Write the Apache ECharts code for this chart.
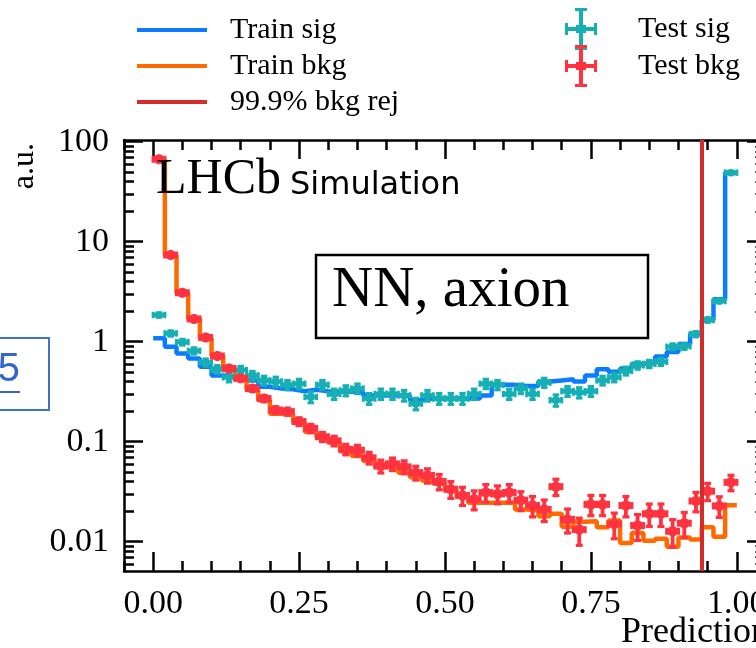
<!DOCTYPE html>
<html>
<head>
<meta charset="utf-8">
<script src="https://cdn.jsdelivr.net/npm/echarts@6/dist/echarts.min.js"></script>
<style>
  html, body { margin: 0; padding: 0; background: #ffffff; }
  #chart { width: 756px; height: 648px; }
</style>
</head>
<body>
<div id="chart"></div>
<script>
// ---------------- data ----------------
const binWidth = 0.02;   // 50 bins on [0, 1]
const trainSig = [1.08, 0.89, 0.76, 0.68, 0.56, 0.46, 0.45, 0.43, 0.41, 0.355,
  0.34, 0.335, 0.32, 0.33, 0.32, 0.315, 0.315, 0.31, 0.29, 0.29,
  0.29, 0.29, 0.26, 0.27, 0.27, 0.27, 0.27, 0.27, 0.29, 0.37,
  0.37, 0.36, 0.36, 0.40, 0.41, 0.42, 0.40, 0.46, 0.53, 0.50,
  0.54, 0.60, 0.62, 0.71, 0.79, 0.95, 1.2, 1.65, 2.65, 49];
const trainBkg = [66, 7.3, 3.05, 1.7, 1.08, 0.72, 0.53, 0.42, 0.33, 0.26,
  0.19, 0.185, 0.155, 0.125, 0.11, 0.098, 0.080, 0.072, 0.064, 0.056,
  0.054, 0.049, 0.044, 0.041, 0.038, 0.0324, 0.0283, 0.0245, 0.0245, 0.0245,
  0.0245, 0.021, 0.0205, 0.018, 0.019, 0.0141, 0.0158, 0.016, 0.0139, 0.0163,
  0.0097, 0.0122, 0.0102, 0.0107, 0.0089, 0.011, 0.0105, 0.0139, 0.0112, 0.0232];
const testSig = [1.85, 1.21, 0.99, 0.81, 0.62, 0.53, 0.44, 0.52, 0.46, 0.41,
  0.40, 0.37, 0.38, 0.28, 0.37, 0.30, 0.325, 0.34, 0.27, 0.30,
  0.30, 0.29, 0.24, 0.29, 0.27, 0.27, 0.27, 0.30, 0.38, 0.37,
  0.30, 0.34, 0.30, 0.39, 0.26, 0.32, 0.31, 0.32, 0.41, 0.44,
  0.51, 0.58, 0.60, 0.63, 0.89, 0.90, 1.19, 1.65, 2.55, 49];
const testSigErr = [0.090, 0.073, 0.066, 0.059, 0.052, 0.048, 0.044, 0.048, 0.045, 0.042,
  0.042, 0.040, 0.041, 0.035, 0.040, 0.036, 0.038, 0.038, 0.034, 0.036,
  0.036, 0.036, 0.032, 0.036, 0.034, 0.034, 0.034, 0.036, 0.041, 0.040,
  0.036, 0.038, 0.036, 0.041, 0.034, 0.037, 0.037, 0.037, 0.042, 0.044,
  0.047, 0.050, 0.051, 0.052, 0.062, 0.063, 0.072, 0.085, 0.105, 0.46];
const testBkg = [66.7, 7.36, 3.09, 1.69, 1.10, 0.72, 0.54, 0.43, 0.34, 0.27,
  0.207, 0.20, 0.159, 0.136, 0.112, 0.102, 0.084, 0.082, 0.069, 0.057,
  0.060, 0.056, 0.049, 0.046, 0.040, 0.0335, 0.029, 0.0265, 0.031, 0.030,
  0.031, 0.026, 0.023, 0.021, 0.0355, 0.0167, 0.0132, 0.0236, 0.0236, 0.015,
  0.023, 0.0145, 0.019, 0.019, 0.0127, 0.0153, 0.0255, 0.032, 0.0228, 0.0392];
const testBkgErr = [0.29, 0.095, 0.062, 0.046, 0.037, 0.030, 0.026, 0.023, 0.020, 0.018,
  0.016, 0.0157, 0.014, 0.0129, 0.0117, 0.0112, 0.0101, 0.0100, 0.0092, 0.0084,
  0.0086, 0.0083, 0.0077, 0.0075, 0.0070, 0.0064, 0.0060, 0.0057, 0.0062, 0.0061,
  0.0062, 0.0056, 0.0053, 0.0051, 0.0066, 0.0045, 0.0040, 0.0054, 0.0054, 0.0043,
  0.0053, 0.0042, 0.0048, 0.0048, 0.0039, 0.0043, 0.0056, 0.0063, 0.0053, 0.0069];
const bkgRejCut = 0.945;
const xMajorTicks = [0.00, 0.25, 0.50, 0.75, 1.00];
const xMinorTicks = [-0.05, 0.05, 0.10, 0.15, 0.20, 0.30, 0.35, 0.40, 0.45, 0.55, 0.60, 0.65, 0.70, 0.80, 0.85, 0.90, 0.95, 1.05];
const yMajorTicks = [0.01, 0.1, 1, 10, 100];
const yMinorTicks = [0.006, 0.007, 0.008, 0.009, 0.02, 0.03, 0.04, 0.05, 0.06, 0.07, 0.08, 0.09,
  0.2, 0.3, 0.4, 0.5, 0.6, 0.7, 0.8, 0.9, 2, 3, 4, 5, 6, 7, 8, 9, 20, 30, 40, 50, 60, 70, 80, 90];

// ---------------- helpers ----------------
function stepData(vals) {
  const out = [];
  for (let i = 0; i < vals.length; i++) out.push([i * binWidth, vals[i]]);
  out.push([vals.length * binWidth, vals[vals.length - 1]]);
  return out;
}
function pointData(vals, errs) {
  return vals.map((v, i) => [(i + 0.5) * binWidth, v, errs[i]]);
}
function errRender(rx, ry, lw, cap) {
  return function (params, api) {
    const x = api.value(0), y = api.value(1), e = api.value(2);
    const c = api.coord([x, y]);
    const l = api.coord([x - binWidth / 2, y]);
    const r = api.coord([x + binWidth / 2, y]);
    const t = api.coord([x, y + e]);
    const b = api.coord([x, Math.max(y - e, 1e-5)]);
    const color = api.visual('color');
    const st = { stroke: color, lineWidth: lw };
    const cs = { stroke: color, lineWidth: lw * 0.85 };
    return {
      type: 'group',
      children: [
        { type: 'line', shape: { x1: l[0], y1: l[1], x2: r[0], y2: r[1] }, style: st },
        { type: 'line', shape: { x1: t[0], y1: t[1], x2: b[0], y2: b[1] }, style: st },
        { type: 'line', shape: { x1: l[0], y1: l[1] - cap, x2: l[0], y2: l[1] + cap }, style: cs },
        { type: 'line', shape: { x1: r[0], y1: r[1] - cap, x2: r[0], y2: r[1] + cap }, style: cs },
        { type: 'line', shape: { x1: t[0] - cap, y1: t[1], x2: t[0] + cap, y2: t[1] }, style: cs },
        { type: 'line', shape: { x1: b[0] - cap, y1: b[1], x2: b[0] + cap, y2: b[1] }, style: cs },
        { type: 'ellipse', shape: { cx: c[0], cy: c[1], rx: rx, ry: ry }, style: { fill: color } }
      ]
    };
  };
}

const FONT = '"Liberation Serif", "Times New Roman", serif';
const BLACK = '#000000';
const COL = { sig: '#0a7cff', bkg: '#ff6a00', cut: '#d62b2b', tsig: '#16b0b4', tbkg: '#ff3340' };
const crossIcon = 'path://M0,19H32V23H0Z M14,0H18V42H14Z M0,15H3V27H0Z M29,15H32V27H29Z M10,0H22V3H10Z M10,39H22V42H10Z M11,17H21V25H11Z';

const yBase = { type: 'log', logBase: 10, min: 0.00509, max: 104, gridIndex: 0, splitLine: { show: false } };
const xBase = { type: 'value', min: -0.05, max: 1.05, gridIndex: 0, splitLine: { show: false } };

const option = {
  backgroundColor: '#ffffff',
  animation: false,
  textStyle: { fontFamily: FONT, color: BLACK },
  grid: { left: 124, top: 140, right: -10, bottom: 77, containLabel: false, outerBoundsMode: 'none' },
  legend: [
    {
      orient: 'vertical', left: 137, top: 14, padding: 0, itemWidth: 70, itemHeight: 4, itemGap: 4,
      selectedMode: false,
      textStyle: { fontFamily: FONT, fontSize: 30, color: BLACK, lineHeight: 32, padding: [0, 0, 0, 18] },
      data: [
        { name: 'Train sig', icon: 'rect' },
        { name: 'Train bkg', icon: 'rect' },
        { name: '99.9% bkg rej', icon: 'rect' }
      ]
    },
    {
      orient: 'vertical', left: 565, top: 8, padding: 0, itemWidth: 32, itemHeight: 42, itemGap: -5,
      selectedMode: false,
      textStyle: { fontFamily: FONT, fontSize: 30, color: BLACK, padding: [0, 0, 0, 36] },
      data: [
        { name: 'Test sig', icon: crossIcon },
        { name: 'Test bkg', icon: crossIcon }
      ]
    }
  ],
  xAxis: [
    Object.assign({}, xBase, {
      position: 'bottom',
      axisLine: { show: true, onZero: false, lineStyle: { color: BLACK, width: 2.5 } },
      axisTick: { show: true, inside: true, length: 19, lineStyle: { color: BLACK, width: 2.5 }, customValues: xMajorTicks },
      axisLabel: { show: true, margin: 16, fontFamily: FONT, fontSize: 34, color: BLACK, customValues: xMajorTicks,
        formatter: v => v.toFixed(2) }
    }),
    Object.assign({}, xBase, {
      position: 'bottom',
      axisLine: { show: false, onZero: false },
      axisTick: { show: true, inside: true, length: 10, lineStyle: { color: BLACK, width: 2.5 }, customValues: xMinorTicks },
      axisLabel: { show: false }
    }),
    Object.assign({}, xBase, {
      position: 'top',
      axisLine: { show: true, onZero: false, lineStyle: { color: BLACK, width: 2.5 } },
      axisTick: { show: true, inside: true, length: 19, lineStyle: { color: BLACK, width: 2.5 }, customValues: xMajorTicks },
      axisLabel: { show: false }
    }),
    Object.assign({}, xBase, {
      position: 'top',
      axisLine: { show: false, onZero: false },
      axisTick: { show: true, inside: true, length: 10, lineStyle: { color: BLACK, width: 2.5 }, customValues: xMinorTicks },
      axisLabel: { show: false }
    })
  ],
  yAxis: [
    Object.assign({}, yBase, {
      position: 'left',
      axisLine: { show: true, onZero: false, lineStyle: { color: BLACK, width: 2.5 } },
      axisTick: { show: true, inside: true, length: 19, lineStyle: { color: BLACK, width: 2.5 }, customValues: yMajorTicks },
      axisLabel: { show: true, margin: 15, fontFamily: FONT, fontSize: 34, color: BLACK, customValues: yMajorTicks,
        formatter: v => { const e = Math.round(Math.log10(v)); return e >= 0 ? String(Math.pow(10, e)) : Math.pow(10, e).toFixed(-e); } }
    }),
    Object.assign({}, yBase, {
      position: 'left',
      axisLine: { show: false, onZero: false },
      axisTick: { show: true, inside: true, length: 10, lineStyle: { color: BLACK, width: 2.5 }, customValues: yMinorTicks },
      axisLabel: { show: false }
    }),
    Object.assign({}, yBase, {
      position: 'right',
      axisLine: { show: true, onZero: false, lineStyle: { color: BLACK, width: 2.5 } },
      axisTick: { show: true, inside: true, length: 19, lineStyle: { color: BLACK, width: 2.5 }, customValues: yMajorTicks },
      axisLabel: { show: false }
    }),
    Object.assign({}, yBase, {
      position: 'right',
      axisLine: { show: false, onZero: false },
      axisTick: { show: true, inside: true, length: 11, lineStyle: { color: '#666666', width: 2 }, customValues: yMinorTicks },
      axisLabel: { show: false }
    })
  ],
  graphic: [
    { type: 'text', x: 25, y: 143, rotation: Math.PI / 2, z: 10,
      style: { text: 'a.u.', font: '32px ' + FONT, fill: BLACK, align: 'right', verticalAlign: 'middle' } },
    { type: 'text', x: 769, y: 633, z: 10,
      style: { text: 'Prediction', font: '36px ' + FONT, fill: BLACK, align: 'right', verticalAlign: 'middle' } },
    { type: 'text', x: 156, y: 180, z: 10,
      style: { text: 'LHCb', font: '50px ' + FONT, fill: BLACK, align: 'left', verticalAlign: 'middle' } },
    { type: 'text', x: 290, y: 186, z: 10,
      style: { text: 'Simulation', font: '32px "DejaVu Sans", sans-serif', fill: BLACK, align: 'left', verticalAlign: 'middle' } },
    { type: 'rect', shape: { x: 316, y: 255, width: 332, height: 83 }, z: 10,
      style: { fill: '#ffffff', stroke: BLACK, lineWidth: 2.5 } },
    { type: 'text', x: 332, y: 291, z: 11,
      style: { text: 'NN, axion', font: '57px ' + FONT, fill: BLACK, align: 'left', verticalAlign: 'middle' } },
    { type: 'rect', shape: { x: -3, y: 338, width: 52, height: 72 }, z: 10,
      style: { fill: 'none', stroke: '#3f72cf', lineWidth: 2 } },
    { type: 'text', x: 20, y: 370, z: 10,
      style: { text: '5', font: '40px "Liberation Sans", Arial, sans-serif', fill: '#2f68c8', align: 'right', verticalAlign: 'middle' } },
    { type: 'line', shape: { x1: 0, y1: 392, x2: 20, y2: 392 }, z: 10,
      style: { stroke: '#2f68c8', lineWidth: 2 } }
  ],
  series: [
    {
      name: 'Train sig', type: 'line', step: 'end', xAxisIndex: 0, yAxisIndex: 0,
      data: stepData(trainSig), showSymbol: false, symbol: 'none', color: COL.sig,
      lineStyle: { color: COL.sig, width: 4.5 }, z: 2
    },
    {
      name: 'Train bkg', type: 'line', step: 'end', xAxisIndex: 0, yAxisIndex: 0,
      data: stepData(trainBkg), showSymbol: false, symbol: 'none', color: COL.bkg,
      lineStyle: { color: COL.bkg, width: 4.5 }, z: 2
    },
    {
      name: '99.9% bkg rej', type: 'line', xAxisIndex: 0, yAxisIndex: 0, data: [],
      color: COL.cut, lineStyle: { color: COL.cut, width: 4 }, z: 3,
      markLine: {
        silent: true, symbol: ['none', 'none'], animation: false,
        label: { show: false },
        lineStyle: { color: COL.cut, width: 4, type: 'solid' },
        data: [{ xAxis: bkgRejCut }]
      }
    },
    {
      name: 'Test sig', type: 'custom', xAxisIndex: 0, yAxisIndex: 0,
      color: COL.tsig, itemStyle: { color: COL.tsig },
      encode: { x: 0, y: 1 }, renderItem: errRender(4.8, 3.8, 3.6, 3.2),
      data: pointData(testSig, testSigErr), z: 4
    },
    {
      name: 'Test bkg', type: 'custom', xAxisIndex: 0, yAxisIndex: 0,
      color: COL.tbkg, itemStyle: { color: COL.tbkg },
      encode: { x: 0, y: 1 }, renderItem: errRender(5.5, 5, 3.8, 3.5),
      data: pointData(testBkg, testBkgErr), z: 4
    }
  ]
};

const chart = echarts.init(document.getElementById('chart'), null, { renderer: 'canvas', width: 756, height: 648 });
chart.setOption(option);
</script>
</body>
</html>
